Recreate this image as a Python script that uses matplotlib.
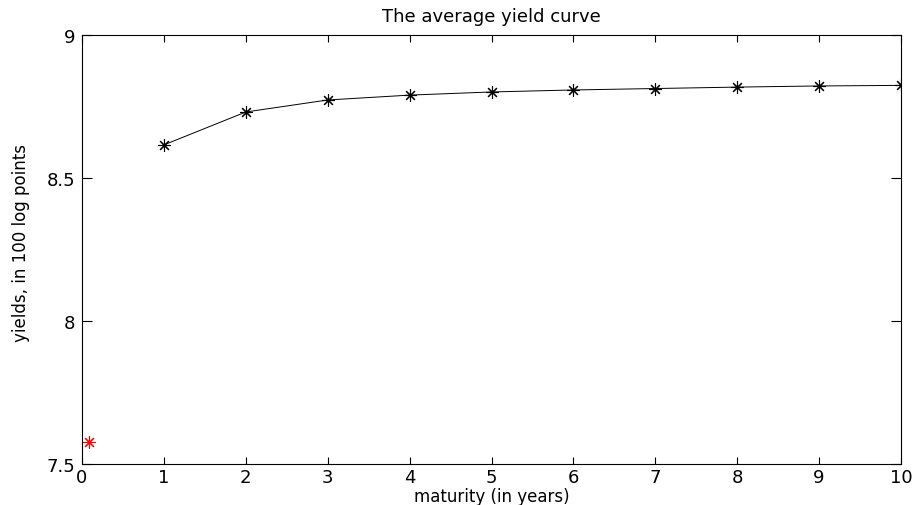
import matplotlib.pyplot as plt
import numpy as np

plt.rc('font', family='DejaVu Sans')

# maturities in years and average yields (100 log points)
maturity = [1, 2, 3, 4, 5, 6, 7, 8, 9, 10]
yields = [8.615, 8.730, 8.772, 8.789, 8.800, 8.807, 8.812, 8.817, 8.821, 8.823]

# one-month yield shown separately
short_maturity = [1.0/12]
short_yield = [7.576]

asterisk = (8, 2, 0)

fig = plt.figure(figsize=(9.14, 5.06), dpi=100)
ax = fig.add_axes([0.0897, 0.081, 0.8961, 0.8484])

ax.plot(maturity, yields, color='black', linewidth=0.7, marker=asterisk, markersize=9,
        markeredgewidth=0.8)
ax.plot(short_maturity, short_yield, linestyle='none', color='red', marker=asterisk,
        markersize=9, markeredgewidth=0.8)

ax.set_xlim(0, 10)
ax.set_ylim(7.5, 9)
ax.set_xticks(np.arange(0, 11, 1))
ax.set_yticks([7.5, 8, 8.5, 9])
ax.set_yticklabels(['7.5', '8', '8.5', '9'])
ax.tick_params(direction='in', top=True, right=True, labelsize=13, width=0.8)
ax.tick_params(axis='x', length=5, pad=3)
ax.tick_params(axis='y', length=7, pad=5)
for s in ax.spines.values():
    s.set_linewidth(0.8)

ax.set_xlabel('maturity (in years)', fontsize=12, va='top')
ax.xaxis.set_label_coords(0.5, -0.054)
ax.set_ylabel('yields, in 100 log points', fontsize=12)
ax.yaxis.set_label_coords(-0.063, 0.518)
ax.set_title('The average yield curve', fontsize=13, pad=10)

fig.savefig('out.png', dpi=100)
